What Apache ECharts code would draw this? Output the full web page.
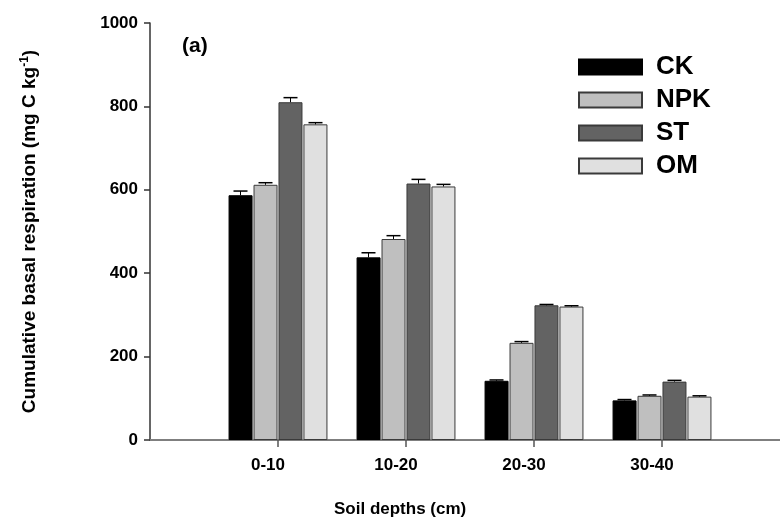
<!DOCTYPE html>
<html><head><meta charset="utf-8">
<script src="https://cdn.jsdelivr.net/npm/echarts@6/dist/echarts.min.js"></script>
<style>html,body{margin:0;padding:0;background:#fff}#c{width:780px;height:528px}</style>
</head><body><div id="c"></div>
<script>
const categories = ['0-10', '10-20', '20-30', '30-40'];
const seriesNames = ['CK', 'NPK', 'ST', 'OM'];
const ck = [587, 438, 142, 95];
const npk = [612, 482, 233, 106];
const st = [810, 615, 323, 140];
const om = [757, 608, 320, 104];
const ckErr = [10, 11, 2, 2];
const npkErr = [5, 8, 3, 2];
const stErr = [11, 10, 2, 3];
const omErr = [4, 5, 2, 2];
const yTicks = [0, 200, 400, 600, 800, 1000];

const values = [ck, npk, st, om];
const errs = [ckErr, npkErr, stErr, omErr];
const colors = ['#000000', '#bfbfbf', '#636363', '#e0e0e0'];
const borders = ['#000000', '#3a3a3a', '#3a3a3a', '#3a3a3a'];
const FONT = 'Liberation Sans, Arial, sans-serif';
const BARW = 24, STEP = 25;

const cats = [''].concat(categories, ['']);
const series = [];
seriesNames.forEach((n, k) => {
  series.push({
    name: n, type: 'bar', barWidth: BARW, barGap: '4%',
    data: [null].concat(values[k], [null]),
    itemStyle: { color: colors[k], borderColor: borders[k], borderWidth: 1 }
  });
});
seriesNames.forEach((n, k) => {
  series.push({
    type: 'custom', silent: true, z: 5,
    data: values[k].map((v, i) => [i + 1, v, errs[k][i]]),
    renderItem: function (params, api) {
      const c = api.value(0), v = api.value(1), e = api.value(2);
      const p0 = api.coord([c, v]);
      const p1 = api.coord([c, v + e]);
      const base = api.coord([c, 0]);
      const x = p0[0] + (k - 1.5) * STEP;
      const children = [
        { type: 'line', shape: { x1: x, y1: p0[1], x2: x, y2: p1[1] }, style: { stroke: '#000', lineWidth: 1 } },
        { type: 'line', shape: { x1: x - 7, y1: p1[1], x2: x + 7, y2: p1[1] }, style: { stroke: '#000', lineWidth: 1.5 } }
      ];
      if (k === 0) {
        children.push({ type: 'line', shape: { x1: base[0], y1: base[1], x2: base[0], y2: base[1] + 7 }, style: { stroke: '#555', lineWidth: 1.5 } });
      }
      return { type: 'group', children: children };
    }
  });
});

const chart = echarts.init(document.getElementById('c'));
chart.setOption({
  animation: false,
  backgroundColor: '#fff',
  grid: { left: 150, top: 23, width: 640, height: 417, outerBoundsMode: 'none', containLabel: false },
  legend: {
    orient: 'vertical', left: 578, top: 54, padding: 0, data: seriesNames,
    icon: 'rect', itemWidth: 63, itemHeight: 15, itemGap: 7,
    textStyle: { fontFamily: FONT, fontWeight: 'bold', fontSize: 26, color: '#000', lineHeight: 26, padding: [0, 0, 0, 9] }
  },
  xAxis: {
    type: 'category', data: cats, boundaryGap: false,
    axisLine: { lineStyle: { color: '#7f7f7f', width: 2 } },
    axisTick: { show: false },
    axisLabel: { interval: 0, margin: 17, fontFamily: FONT, fontWeight: 'bold', fontSize: 17, color: '#000', padding: [0, 20, 0, 0] },
    splitLine: { show: false }
  },
  yAxis: {
    type: 'value', min: yTicks[0], max: yTicks[yTicks.length - 1], interval: 200,
    name: 'Cumulative basal respiration (mg C kg{sup|-1})',
    nameLocation: 'middle', nameRotate: 90, nameGap: 110,
    nameTextStyle: { fontFamily: FONT, fontWeight: 'bold', fontSize: 19, color: '#000',
      rich: { sup: { fontFamily: FONT, fontWeight: 'bold', fontSize: 12, color: '#000', verticalAlign: 'top', padding: [0, 0, 9, 0] } } },
    axisLine: { show: true, lineStyle: { color: '#333', width: 1.5 } },
    axisTick: { show: true, inside: false, length: 6, lineStyle: { color: '#333', width: 1.5 } },
    axisLabel: { margin: 12, fontFamily: FONT, fontWeight: 'bold', fontSize: 17, color: '#000', formatter: (v) => String(v) },
    splitLine: { show: false }
  },
  graphic: [
    { type: 'text', left: 182, top: 36, style: { text: '(a)', fontFamily: FONT, fontWeight: 'bold', fontSize: 21, fill: '#000' } },
    { type: 'text', left: 334, top: 501, style: { text: 'Soil depths (cm)', fontFamily: FONT, fontWeight: 'bold', fontSize: 17, fill: '#000' } }
  ],
  series: series
});
</script></body></html>
